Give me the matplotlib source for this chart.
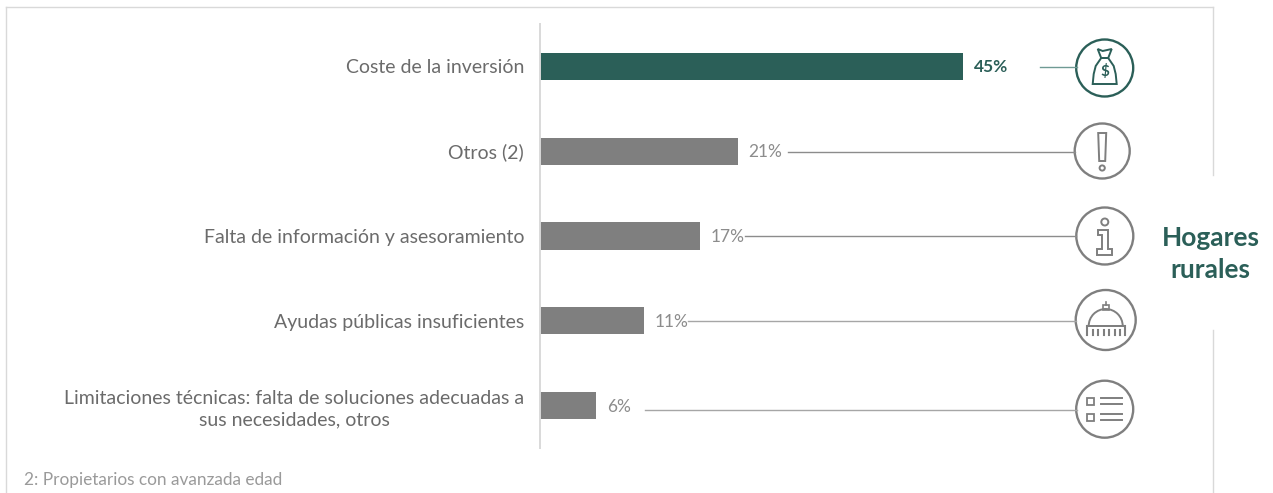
import matplotlib
matplotlib.use("Agg")
import matplotlib.pyplot as plt
from matplotlib.patches import Circle, Polygon, Rectangle, Wedge

categories = [
    "Coste de la inversión",
    "Otros (2)",
    "Falta de información y asesoramiento",
    "Ayudas públicas insuficientes",
    "Limitaciones técnicas: falta de soluciones adecuadas a\nsus necesidades, otros",
]
values = [45, 21, 17, 11, 6]
value_labels = ["45%", "21%", "17%", "11%", "6%"]
footnote = "2: Propietarios con avanzada edad"
side_title = "Hogares\nrurales"

GREEN = "#2b5f58"
GREY = "#7f7f7f"
W, H = 1273, 493

plt.rcParams["font.family"] = ["Lato", "DejaVu Sans"]
fig = plt.figure(figsize=(W / 100, H / 100), dpi=100, facecolor="white")

# overlay in pixel coordinates for frame, connectors and icons
over = fig.add_axes([0, 0, 1, 1])
over.set_xlim(0, W)
over.set_ylim(H, 0)
over.axis("off")

# bars
ax = fig.add_axes([540 / W, (H - 448) / H, 500 / W, 424 / H], facecolor="none")
ax.set_xlim(0, 500 / 9.41)
ax.set_ylim(4.5, -0.5)
ax.barh(range(len(values)), values, height=0.32,
        color=[GREEN, GREY, GREY, GREY, GREY])
for s in ["top", "right", "bottom"]:
    ax.spines[s].set_visible(False)
ax.spines["left"].set_color("#d9d9d9")
ax.spines["left"].set_linewidth(1.4)
ax.set_xticks([])
ax.set_yticks(range(len(values)))
ax.set_yticklabels(categories, fontsize=14, color="#6b6b6b",
                   multialignment="center", linespacing=1.28)
ax.tick_params(axis="y", length=0, pad=11.5)

for i, (v, lab) in enumerate(zip(values, value_labels)):
    first = i == 0
    ax.annotate(lab, (v, i), xytext=(11, -1), textcoords="offset pixels",
                va="center", ha="left", fontsize=12.5,
                color=GREEN if first else "#8c8c8c",
                fontweight="bold" if first else "normal")

# frame
frame = "#d9d9d9"
over.plot([6, 6], [7, H], color=frame, lw=1.0)
over.plot([6, 1213], [7, 7], color=frame, lw=1.0)
over.plot([1213, 1213], [7, 175], color=frame, lw=1.0)
over.plot([1213, 1213], [330, H], color=frame, lw=1.0)

# connectors
over.plot([1040, 1077], [66.5, 66.5], color="#6f9a94", lw=1.0)
over.plot([788, 1075], [151.5, 151.5], color="#8c8c8c", lw=1.0)
over.plot([745, 1076], [235.5, 235.5], color="#8c8c8c", lw=1.0)
over.plot([688, 1076], [321, 321], color="#a6a6a6", lw=1.0)
over.plot([645, 1077], [410, 410], color="#a6a6a6", lw=1.0)


def ring(cx, cy, r, col):
    over.add_patch(Circle((cx, cy), r, fill=False, ec=col, lw=1.7))


def money_icon(cx, cy, col):
    ring(cx, cy, 28.5, col)
    over.add_patch(Polygon([(cx - 12, cy + 16), (cx + 12, cy + 16), (cx + 11, cy + 6),
                            (cx + 9, cy - 2), (cx + 3.5, cy - 10), (cx - 3.5, cy - 10),
                            (cx - 9, cy - 2), (cx - 11, cy + 6)],
                           fill=False, ec=col, lw=1.4))
    over.add_patch(Polygon([(cx - 7, cy - 19), (cx - 2, cy - 17), (cx + 7, cy - 19),
                            (cx + 3.5, cy - 10), (cx - 3.5, cy - 10)],
                           fill=False, ec=col, lw=1.4))
    over.text(cx, cy + 4, "$", color=col, fontsize=11, fontweight="bold",
              ha="center", va="center")


def warn_icon(cx, cy, col):
    ring(cx, cy, 27.5, col)
    over.add_patch(Polygon([(cx - 4, cy - 18), (cx + 4, cy - 18), (cx + 3, cy + 10),
                            (cx - 3, cy + 10)], fill=False, ec=col, lw=1.4))
    over.add_patch(Circle((cx, cy + 17), 2.6, fill=False, ec=col, lw=1.4))


def info_icon(cx, cy, col):
    ring(cx, cy, 28.5, col)
    over.add_patch(Circle((cx, cy - 14), 3.5, fill=False, ec=col, lw=1.4))
    over.add_patch(Polygon([(cx - 7, cy - 6), (cx + 3, cy - 6), (cx + 3, cy + 13),
                            (cx + 7, cy + 13), (cx + 7, cy + 19), (cx - 8, cy + 19),
                            (cx - 8, cy + 13), (cx - 3, cy + 13), (cx - 3, cy - 1),
                            (cx - 7, cy - 1)], fill=False, ec=col, lw=1.4))


def dome_icon(cx, cy, col):
    ring(cx, cy, 30, col)
    # y axis of the overlay points down, so the upper half is 180-360
    over.add_patch(Wedge((cx, cy + 6), 17, 180, 360, fill=False, ec=col, lw=1.4))
    over.add_patch(Rectangle((cx - 3, cy - 15), 6, 5, fill=False, ec=col, lw=1.2))
    over.plot([cx, cx], [cy - 18, cy - 15], color=col, lw=1.2)
    over.plot([cx - 19, cx + 19], [cy + 6, cy + 6], color=col, lw=1.4)
    for dx in [-19, -13, -7.5, -2, 3.5, 9, 14, 19]:
        long_bar = dx in (-19, 19)
        over.plot([cx + dx, cx + dx], [cy + (6 if long_bar else 10), cy + 15],
                  color=col, lw=1.5)


def list_icon(cx, cy, col):
    ring(cx, cy, 28.5, col)
    for dy in [-8, 8]:
        over.add_patch(Rectangle((cx - 17.5, cy + dy - 3), 6.5, 6.5, fill=False, ec=col, lw=1.3))
        over.plot([cx - 4, cx + 17], [cy + dy - 3, cy + dy - 3], color=col, lw=1.4)
        over.plot([cx - 4, cx + 17], [cy + dy + 3, cy + dy + 3], color=col, lw=1.4)


money_icon(1104.7, 68, GREEN)
warn_icon(1102.2, 151, GREY)
info_icon(1104.8, 236, GREY)
dome_icon(1105.7, 320, GREY)
list_icon(1104.7, 409.2, GREY)

# side title and footnote
over.text(1210.5, 254, side_title, color=GREEN, fontsize=19, fontweight="bold",
          ha="center", va="center", linespacing=1.4)
over.text(24, 480, footnote, color="#9a9a9a", fontsize=12.4,
          ha="left", va="center")

fig.savefig("out.png", dpi=100)
